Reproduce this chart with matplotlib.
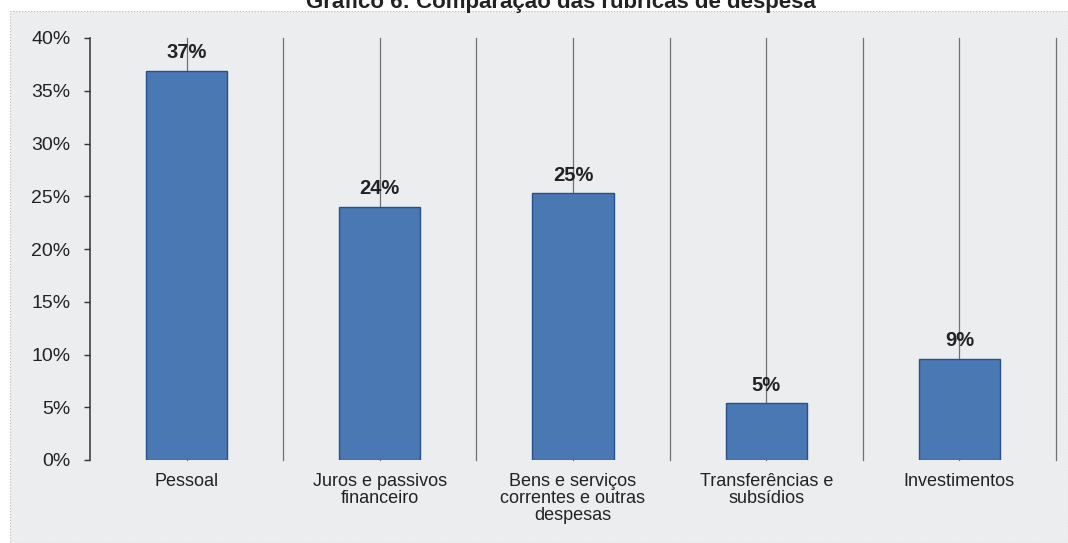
import matplotlib
matplotlib.use("Agg")
import matplotlib.pyplot as plt
from matplotlib.patches import Rectangle

categories = ["Pessoal", "Juros e passivos\nfinanceiro", "Bens e serviços\ncorrentes e outras\ndespesas",
              "Transferências e\nsubsídios", "Investimentos"]
values = [36.9, 24.0, 25.3, 5.4, 9.6]
value_labels = ["37%", "24%", "25%", "5%", "9%"]
yticks = [0, 5, 10, 15, 20, 25, 30, 35, 40]
title = "Gráfico 6: Comparação das rubricas de despesa"

plt.rcParams['font.family'] = ['Liberation Sans', 'DejaVu Sans']

W, H = 1068, 543
fig = plt.figure(figsize=(W / 100, H / 100), dpi=100)
fig.patch.set_facecolor("white")

# background box
bg = Rectangle((10 / W, 0), 1 - 10 / W, 1 - 11 / H, transform=fig.transFigure,
               facecolor="#ebedee", edgecolor="#b8b8b8", linewidth=0.8, linestyle=":", zorder=-10)
fig.patches.append(bg)

ax = fig.add_axes([90 / W, (H - 460) / H, (1056 - 90) / W, (460 - 38) / H])
ax.set_facecolor("none")

x = list(range(len(categories)))
ax.set_xlim(-0.5, len(categories) - 0.5)
ax.set_ylim(0, 40)

# vertical gridlines at category centers and between categories
for i in range(len(categories)):
    ax.axvline(i, color="#707070", linewidth=0.9, zorder=1, clip_on=False)
    ax.axvline(i + 0.5, color="#707070", linewidth=0.9, zorder=1, clip_on=False)

ax.bar(x, values, width=0.42, color="#4a78b2", edgecolor="#28508e", linewidth=1.0, zorder=2)

for xi, v, lab in zip(x, values, value_labels):
    ax.annotate(lab, (xi, v), xytext=(0, 6), textcoords="offset points",
                ha="center", va="bottom", fontsize=14.5, fontweight="bold", color="#222222", zorder=3)

ax.set_yticks(yticks)
ax.set_yticklabels([f"{t}%" for t in yticks], fontsize=14, color="#222222")
ax.set_xticks(x)
ax.set_xticklabels(categories, fontsize=13, color="#222222", linespacing=1.02, va="top")
ax.tick_params(axis="x", length=0, pad=9)
ax.tick_params(axis="y", length=4, width=1, color="#333333", pad=10, direction="out")

for s in ["top", "right", "bottom"]:
    ax.spines[s].set_visible(False)
ax.spines["left"].set_color("#333333")
ax.spines["left"].set_linewidth(1.1)

fig.text(561 / W, 1 - 8 / H, title, ha="center", va="baseline", fontsize=16,
         fontweight="bold", color="#222222")

fig.savefig("out.png", dpi=100)
